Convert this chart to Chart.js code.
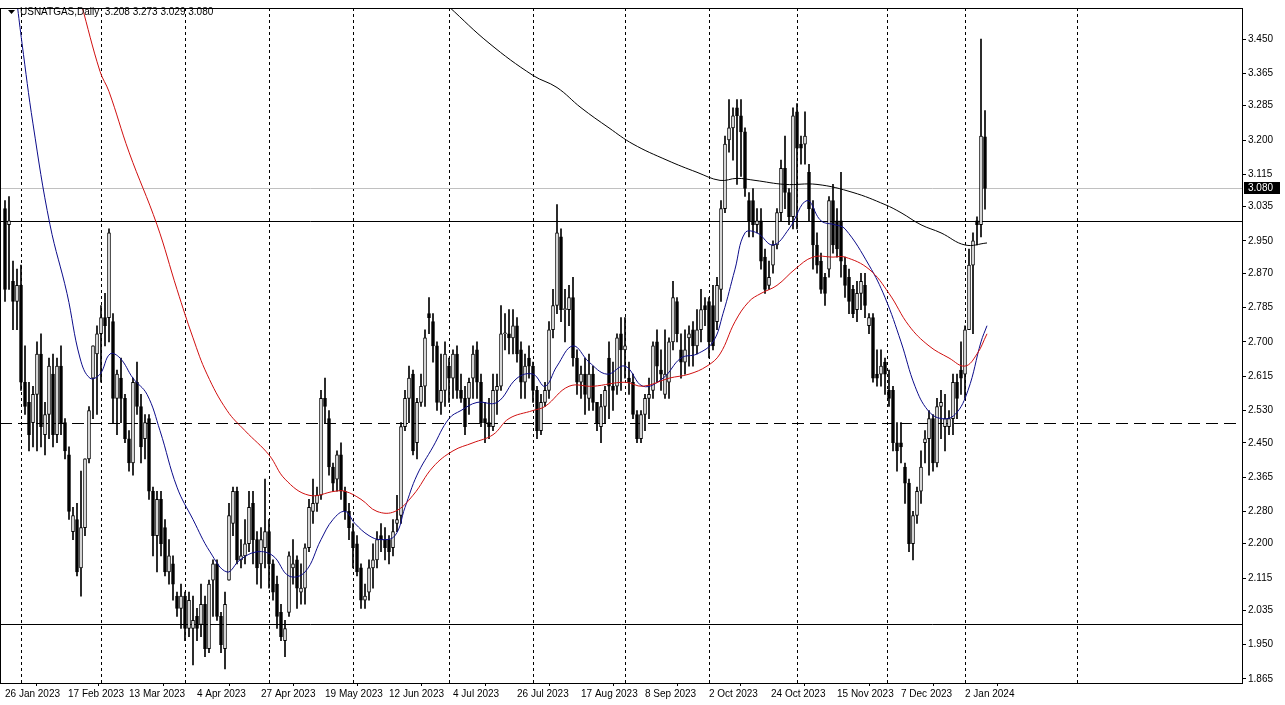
<!DOCTYPE html>
<html>
<head>
<meta charset="utf-8">
<script src="https://cdn.jsdelivr.net/npm/chart.js@4.4.0/dist/chart.umd.min.js"></script>
<style>
  body { margin: 0; background: #fff; }
  canvas { display: block; }
</style>
</head>
<body>
<canvas id="chart" width="1285" height="705"></canvas>
<script>
// daily candles, bar 0 = 26 Jan 2023
const opens = [
3.03,2.99,2.85,2.80,2.84,2.60,2.55,2.50,2.57,2.67,
2.47,2.52,2.62,2.47,2.64,2.50,2.42,2.23,2.26,2.14,
2.24,2.41,2.61,2.67,2.72,2.76,2.76,2.75,2.56,2.61,
2.56,2.46,2.40,2.60,2.54,2.46,2.51,2.33,2.22,2.31,
2.24,2.13,2.15,2.07,2.04,2.07,1.99,1.99,2.02,2.00,
2.05,1.94,2.11,2.15,2.02,1.94,2.11,2.25,2.33,2.16,
2.17,2.20,2.30,2.21,2.15,2.19,2.23,2.15,2.10,2.03,
1.96,2.03,2.14,2.16,2.08,2.09,2.19,2.28,2.30,2.32,
2.56,2.51,2.39,2.36,2.42,2.33,2.28,2.23,2.20,2.14,
2.06,2.08,2.14,2.16,2.22,2.21,2.21,2.19,2.25,2.27,
2.49,2.56,2.62,2.45,2.55,2.59,2.77,2.75,2.69,2.55,
2.58,2.64,2.61,2.67,2.58,2.56,2.56,2.61,2.68,2.60,
2.51,2.50,2.49,2.58,2.59,2.72,2.72,2.71,2.74,2.68,
2.60,2.66,2.64,2.58,2.48,2.55,2.58,2.73,2.79,2.96,
2.78,2.78,2.81,2.66,2.60,2.62,2.56,2.62,2.55,2.49,
2.54,2.66,2.59,2.59,2.72,2.68,2.61,2.60,2.52,2.46,
2.52,2.56,2.58,2.70,2.63,2.57,2.60,2.70,2.80,2.68,
2.65,2.71,2.73,2.69,2.73,2.79,2.80,2.79,2.75,2.83,
3.03,3.20,3.23,3.28,3.26,3.22,3.05,3.05,2.99,3.00,
2.91,2.84,2.89,2.94,3.02,3.13,3.07,3.01,3.27,3.19,
3.19,3.12,3.03,2.94,2.90,2.86,2.88,3.05,3.00,3.00,
2.89,2.86,2.83,2.78,2.82,2.84,2.74,2.76,2.62,2.62,
2.65,2.58,2.58,2.45,2.45,2.39,2.35,2.20,2.27,2.33,
2.45,2.46,2.51,2.40,2.54,2.49,2.49,2.51,2.60,2.63,
2.62,2.73,2.89,3.00,2.99,3.208];
const highs = [
3.05,3.06,2.90,2.88,2.89,2.69,2.60,2.59,2.70,2.72,
2.55,2.66,2.67,2.66,2.69,2.51,2.44,2.29,2.30,2.38,
2.41,2.54,2.69,2.74,2.79,2.82,2.98,2.77,2.63,2.66,
2.57,2.48,2.61,2.65,2.57,2.52,2.52,2.34,2.33,2.33,
2.26,2.21,2.17,2.08,2.10,2.08,2.08,2.07,2.04,2.10,
2.07,2.11,2.16,2.16,2.03,2.08,2.30,2.34,2.34,2.21,
2.26,2.33,2.33,2.23,2.24,2.36,2.26,2.16,2.12,2.05,
2.01,2.18,2.21,2.17,2.15,2.20,2.31,2.36,2.34,2.58,
2.61,2.53,2.40,2.43,2.45,2.34,2.30,2.25,2.22,2.15,
2.10,2.16,2.20,2.23,2.25,2.24,2.22,2.26,2.32,2.50,
2.58,2.64,2.63,2.56,2.62,2.73,2.81,2.77,2.70,2.67,
2.70,2.66,2.68,2.69,2.62,2.59,2.61,2.69,2.70,2.62,
2.55,2.56,2.62,2.62,2.79,2.77,2.78,2.78,2.76,2.70,
2.67,2.69,2.65,2.59,2.57,2.60,2.75,2.83,3.04,2.98,
2.83,2.84,2.86,2.68,2.64,2.66,2.67,2.64,2.55,2.57,
2.59,2.70,2.65,2.72,2.76,2.76,2.65,2.62,2.53,2.53,
2.57,2.61,2.70,2.73,2.68,2.73,2.71,2.85,2.81,2.72,
2.73,2.74,2.75,2.78,2.83,2.81,2.81,2.84,2.86,3.05,
3.21,3.30,3.28,3.30,3.30,3.23,3.07,3.08,3.03,3.03,
2.93,2.90,2.95,3.03,3.15,3.21,3.08,3.28,3.29,3.21,
3.27,3.14,3.05,2.97,2.92,2.87,3.06,3.09,3.03,3.12,
2.91,2.88,2.84,2.85,2.87,2.87,2.77,2.77,2.68,2.68,
2.66,2.63,2.59,2.50,2.50,2.40,2.36,2.28,2.34,2.43,
2.48,2.53,2.52,2.56,2.58,2.57,2.53,2.62,2.62,2.70,
2.74,2.93,2.97,3.01,3.45,3.273];
const lows = [
2.80,2.83,2.73,2.73,2.58,2.52,2.43,2.44,2.43,2.44,
2.42,2.46,2.44,2.45,2.47,2.41,2.26,2.21,2.12,2.07,
2.22,2.40,2.51,2.52,2.60,2.69,2.70,2.50,2.47,2.50,
2.45,2.38,2.37,2.52,2.40,2.41,2.31,2.17,2.13,2.17,
2.12,2.10,2.06,2.02,1.99,1.96,1.97,1.90,1.96,1.97,
1.92,1.93,2.02,2.01,1.93,1.89,2.11,2.22,2.15,2.14,
2.15,2.18,2.15,2.10,2.09,2.14,2.09,2.06,1.99,1.96,
1.92,2.02,2.10,2.04,2.05,2.05,2.18,2.25,2.28,2.31,
2.50,2.37,2.33,2.33,2.31,2.26,2.21,2.14,2.12,2.04,
2.04,2.06,2.09,2.14,2.18,2.16,2.15,2.17,2.23,2.25,
2.48,2.50,2.42,2.41,2.54,2.54,2.72,2.65,2.53,2.52,
2.54,2.55,2.56,2.56,2.55,2.47,2.52,2.56,2.56,2.49,
2.45,2.46,2.48,2.52,2.58,2.68,2.67,2.67,2.65,2.56,
2.56,2.61,2.55,2.46,2.47,2.54,2.56,2.71,2.77,2.75,
2.70,2.74,2.64,2.57,2.56,2.52,2.53,2.53,2.48,2.45,
2.50,2.51,2.53,2.57,2.58,2.61,2.57,2.51,2.45,2.45,
2.48,2.51,2.56,2.60,2.58,2.56,2.56,2.68,2.70,2.61,
2.62,2.64,2.64,2.67,2.70,2.74,2.66,2.68,2.73,2.80,
3.02,3.17,3.15,3.09,3.11,3.06,2.96,2.96,2.97,2.88,
2.82,2.83,2.87,2.93,3.00,3.03,2.99,2.98,2.98,3.14,
3.14,3.00,2.88,2.87,2.82,2.79,2.86,2.92,2.91,2.86,
2.81,2.77,2.76,2.75,2.78,2.76,2.72,2.60,2.59,2.59,
2.57,2.54,2.43,2.38,2.40,2.30,2.18,2.16,2.25,2.30,
2.40,2.37,2.38,2.39,2.46,2.43,2.47,2.47,2.51,2.57,
2.56,2.73,2.72,2.94,2.96,3.029];
const closes = [
2.83,3.00,2.80,2.84,2.60,2.54,2.47,2.57,2.67,2.49,
2.52,2.64,2.47,2.64,2.50,2.43,2.28,2.27,2.13,2.24,
2.41,2.53,2.69,2.72,2.76,2.74,2.97,2.56,2.62,2.56,
2.46,2.40,2.60,2.54,2.44,2.50,2.33,2.22,2.31,2.20,
2.13,2.17,2.10,2.04,2.07,1.99,2.06,2.01,1.99,2.05,
1.94,2.10,2.15,2.02,1.95,2.05,2.27,2.33,2.16,2.17,
2.20,2.29,2.21,2.14,2.21,2.23,2.15,2.08,2.02,1.97,
1.99,2.17,2.15,2.09,2.09,2.19,2.29,2.30,2.32,2.56,
2.54,2.39,2.35,2.42,2.33,2.28,2.24,2.19,2.13,2.06,
2.07,2.14,2.16,2.21,2.21,2.19,2.18,2.23,2.26,2.49,
2.56,2.61,2.43,2.55,2.59,2.71,2.76,2.69,2.55,2.58,
2.67,2.61,2.67,2.58,2.56,2.49,2.60,2.67,2.60,2.50,
2.50,2.49,2.58,2.59,2.72,2.72,2.71,2.74,2.67,2.60,
2.64,2.64,2.58,2.48,2.55,2.58,2.73,2.79,2.97,2.78,
2.78,2.81,2.66,2.60,2.62,2.57,2.62,2.55,2.50,2.54,
2.58,2.59,2.58,2.71,2.68,2.69,2.60,2.52,2.46,2.52,
2.56,2.57,2.69,2.64,2.62,2.62,2.70,2.81,2.72,2.65,
2.68,2.72,2.69,2.73,2.78,2.78,2.70,2.69,2.84,3.03,
3.19,3.23,3.26,3.26,3.22,3.08,3.00,2.99,3.00,2.90,
2.83,2.86,2.94,3.02,3.13,3.07,3.01,3.26,3.18,3.18,
3.21,3.03,2.94,2.89,2.83,2.82,3.05,2.94,2.93,2.90,
2.84,2.80,2.77,2.82,2.85,2.79,2.76,2.61,2.61,2.64,
2.62,2.56,2.45,2.43,2.44,2.35,2.20,2.27,2.33,2.39,
2.46,2.51,2.40,2.54,2.55,2.51,2.51,2.60,2.56,2.61,
2.73,2.89,2.95,2.99,3.21,3.080];

// moving averages: [bar, price]
const maBlue = [[3,3.54],[4.25,3.44],[7,3.24],[11.25,2.99],[15.5,2.82],[18.75,2.66],[21.25,2.61],[23.75,2.62],[26.25,2.67],[28.75,2.66],[32,2.61],[35.5,2.57],[38.75,2.48],[43,2.34],[47,2.26],[51.25,2.18],[55.5,2.13],[58.75,2.16],[63,2.18],[67,2.17],[71,2.12],[75,2.13],[79,2.21],[82,2.26],[85,2.28],[87.5,2.25],[91,2.22],[94,2.21],[97.5,2.22],[100,2.29],[103,2.37],[107,2.44],[111,2.51],[114,2.53],[118,2.55],[123,2.55],[128,2.61],[132,2.62],[135,2.59],[138,2.64],[142,2.69],[146,2.65],[150.5,2.62],[155,2.64],[159.5,2.59],[164.5,2.61],[169,2.66],[173,2.67],[177,2.70],[179.5,2.77],[182.5,2.88],[185,2.97],[188,2.97],[192,2.94],[196,2.98],[200.5,3.05],[204,3.00],[207.5,2.99],[210,2.98],[216,2.89],[220,2.81],[224,2.70],[227.5,2.59],[230.75,2.53],[234,2.51],[237.5,2.52],[240.75,2.58],[244,2.70],[245.5,2.74]];
const maRed = [[19,3.54],[23.75,3.37],[26,3.32],[31,3.17],[38,2.99],[43,2.83],[47,2.71],[50.5,2.62],[55.5,2.53],[60,2.48],[66,2.42],[70,2.36],[76,2.32],[82.5,2.33],[85,2.33],[89,2.31],[93,2.28],[97.5,2.28],[102,2.32],[107,2.39],[112,2.43],[117,2.45],[122,2.47],[126,2.51],[132,2.53],[135,2.54],[141,2.59],[147,2.59],[155,2.60],[159.5,2.59],[166,2.61],[171,2.62],[175.5,2.64],[178.75,2.67],[182.5,2.75],[186,2.80],[189,2.82],[193,2.84],[197.5,2.88],[202,2.91],[207,2.91],[210,2.91],[216,2.88],[221,2.82],[226,2.74],[231,2.69],[236,2.66],[240,2.64],[243,2.67],[245.5,2.72]];
const maBlack = [[111,3.53],[121,3.44],[132,3.36],[138,3.33],[144,3.28],[151,3.23],[157,3.19],[165.5,3.15],[173,3.12],[178.75,3.10],[183,3.105],[187.5,3.10],[195,3.09],[203,3.09],[212,3.07],[220,3.04],[224,3.02],[229,2.99],[234,2.97],[240,2.94],[245.5,2.945]];

const priceTicks = [3.450,3.365,3.285,3.200,3.115,3.035,2.950,2.870,2.785,2.700,2.615,2.530,2.450,2.365,2.280,2.200,2.115,2.035,1.950,1.865];
const dateTicks = [0,15.75,31,48,64,80,96,112,128,144,160,176,191.5,208,224,240];
const dateLabels = ['26 Jan 2023','17 Feb 2023','13 Mar 2023','4 Apr 2023','27 Apr 2023','19 May 2023','12 Jun 2023','4 Jul 2023','26 Jul 2023','17 Aug 2023','8 Sep 2023','2 Oct 2023','24 Oct 2023','15 Nov 2023','7 Dec 2023','2 Jan 2024'];
const monthStarts = [4,24,45,66,87,111,132,155,176,198,220.5,240,268];
const levels = [3.0, 2.5, 2.0];
const lastPrice = 3.080;

const wicks = closes.map((c, i) => ({ x: i, y: [lows[i], highs[i]] }));
const bodies = closes.map((c, i) => ({ x: i, y: [Math.min(opens[i], c), Math.max(opens[i], c)] }));
const bodyColors = closes.map((c, i) => c >= opens[i] ? '#ffffff' : '#000000');
const toPts = a => a.map(p => ({ x: p[0], y: p[1] }));

const FONT = '"Liberation Sans", Arial, sans-serif';

const mtPlugin = {
  id: 'mt',
  beforeDatasetsDraw(chart) {
    const { ctx, chartArea: a, scales: { x, y } } = chart;
    ctx.save();
    ctx.lineWidth = 1;
    ctx.strokeStyle = '#000';
    ctx.setLineDash([3, 3]);
    monthStarts.forEach(m => {
      const px = Math.round(x.getPixelForValue(m)) + 0.5;
      ctx.beginPath(); ctx.moveTo(px, a.top); ctx.lineTo(px, a.bottom); ctx.stroke();
    });
    ctx.setLineDash([]);
    // last price line
    ctx.strokeStyle = '#c0c0c0';
    let py = Math.round(y.getPixelForValue(lastPrice)) + 0.5;
    ctx.beginPath(); ctx.moveTo(a.left, py); ctx.lineTo(a.right, py); ctx.stroke();
    ctx.strokeStyle = '#000';
    levels.forEach(l => {
      py = Math.round(y.getPixelForValue(l)) + 0.5;
      ctx.setLineDash(l === 2.5 ? [12, 6] : []);
      ctx.beginPath(); ctx.moveTo(a.left, py); ctx.lineTo(a.right, py); ctx.stroke();
    });
    ctx.restore();
  },
  afterDraw(chart) {
    const { ctx, chartArea: a, scales: { y } } = chart;
    ctx.save();
    ctx.strokeStyle = '#000';
    ctx.lineWidth = 1;
    ctx.strokeRect(a.left + 0.5, a.top + 0.5, a.right - a.left - 1, a.bottom - a.top);
    // title
    ctx.fillStyle = '#000';
    ctx.beginPath(); ctx.moveTo(8, 10); ctx.lineTo(15, 10); ctx.lineTo(11.5, 14); ctx.fill();
    ctx.font = '10px ' + FONT;
    ctx.textBaseline = 'middle';
    ctx.fillText('USNATGAS,Daily  3.208 3.273 3.029 3.080', 20, 12);
    // price box
    const py = Math.round(y.getPixelForValue(lastPrice));
    ctx.fillRect(a.right + 1, py - 6, 36, 12);
    ctx.fillStyle = '#fff';
    ctx.fillText(lastPrice.toFixed(3), a.right + 5, py + 0.5);
    ctx.restore();
  }
};

new Chart(document.getElementById('chart'), {
  type: 'bar',
  data: {
    datasets: [
      { type: 'line', data: toPts(maBlack), borderColor: '#000', borderWidth: 1, pointRadius: 0, tension: 0.4, order: 0 },
      { type: 'line', data: toPts(maRed), borderColor: '#d01010', borderWidth: 1, pointRadius: 0, tension: 0.4, order: 0 },
      { type: 'line', data: toPts(maBlue), borderColor: '#0c0c8a', borderWidth: 1, pointRadius: 0, tension: 0.4, order: 0 },
      { data: wicks, backgroundColor: '#000', barThickness: 1, grouped: false, order: 2 },
      { data: bodies, backgroundColor: bodyColors, borderColor: '#000', borderWidth: 1, borderSkipped: false,
        barThickness: 3, minBarLength: 1, grouped: false, order: 1 }
    ]
  },
  options: {
    responsive: false,
    animation: false,
    devicePixelRatio: 1,
    layout: { padding: { top: 2, left: 0, right: 0, bottom: 0 } },
    plugins: { legend: { display: false }, tooltip: { enabled: false } },
    scales: {
      x: {
        type: 'linear', min: -1.25, max: 309.5, offset: false,
        grid: { drawOnChartArea: false, tickLength: 3, color: '#000' },
        border: { display: false },
        afterBuildTicks: s => { s.ticks = dateTicks.map(v => ({ value: v })); },
        afterFit: s => { s.height = 22; },
        ticks: {
          align: 'start', maxRotation: 0, autoSkip: false, padding: 2, color: '#000',
          font: { family: FONT, size: 10 },
          callback: v => dateLabels[dateTicks.indexOf(v)]
        }
      },
      y: {
        position: 'right', min: 1.855, max: 3.527,
        grid: { drawOnChartArea: false, tickLength: 3, color: '#000' },
        border: { display: false },
        afterBuildTicks: s => { s.ticks = priceTicks.map(v => ({ value: v })); },
        afterFit: s => { s.width = 42; },
        ticks: { color: '#000', padding: 2, font: { family: FONT, size: 10 }, callback: v => v.toFixed(3) }
      }
    }
  },
  plugins: [mtPlugin]
});
</script>
</body>
</html>
